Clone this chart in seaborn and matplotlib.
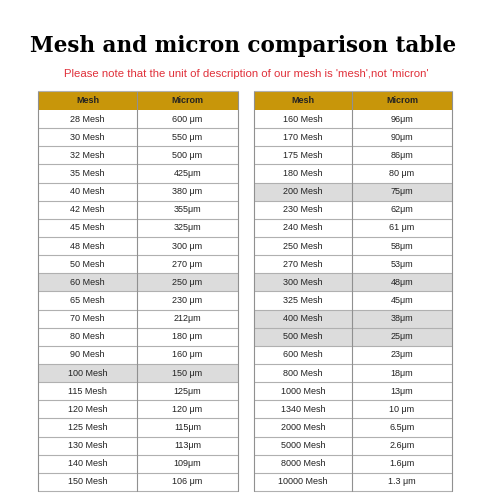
import matplotlib
matplotlib.use("Agg")
import matplotlib.pyplot as plt
import seaborn as sns
from matplotlib.patches import Rectangle

sns.set_theme(style="white")
plt.rcParams['font.family'] = ['Liberation Sans', 'DejaVu Sans']

left_mesh = ["28 Mesh","30 Mesh","32 Mesh","35 Mesh","40 Mesh","42 Mesh","45 Mesh","48 Mesh","50 Mesh","60 Mesh","65 Mesh","70 Mesh","80 Mesh","90 Mesh","100 Mesh","115 Mesh","120 Mesh","125 Mesh","130 Mesh","140 Mesh","150 Mesh"]
left_micron = ["600 μm","550 μm","500 μm","425μm","380 μm","355μm","325μm","300 μm","270 μm","250 μm","230 μm","212μm","180 μm","160 μm","150 μm","125μm","120 μm","115μm","113μm","109μm","106 μm"]
right_mesh = ["160 Mesh","170 Mesh","175 Mesh","180 Mesh","200 Mesh","230 Mesh","240 Mesh","250 Mesh","270 Mesh","300 Mesh","325 Mesh","400 Mesh","500 Mesh","600 Mesh","800 Mesh","1000 Mesh","1340 Mesh","2000 Mesh","5000 Mesh","8000 Mesh","10000 Mesh"]
right_micron = ["96μm","90μm","86μm","80 μm","75μm","62μm","61 μm","58μm","53μm","48μm","45μm","38μm","25μm","23μm","18μm","13μm","10 μm","6.5μm","2.6μm","1.6μm","1.3 μm"]
left_hl = ["60 Mesh","100 Mesh"]
right_hl = ["200 Mesh","300 Mesh","400 Mesh","500 Mesh"]
headers = ["Mesh","Microm"]

fig = plt.figure(figsize=(5,5), dpi=100)
ax = fig.add_axes([0,0,1,1])
ax.set_xlim(0,500); ax.set_ylim(500,0); ax.axis("off")

ax.text(243, 46, "Mesh and micron comparison table", ha="center", va="center",
        fontsize=15.5, fontweight="bold", family=["DejaVu Serif"], color="black")
ax.text(246, 74, "Please note that the unit of description of our mesh is 'mesh',not 'micron'",
        ha="center", va="center", fontsize=8.2, color="#e0303a")

top, hh, rh = 91, 19, 18.14
def table(x0, xm, x1, mesh, mic, hl):
    ax.add_patch(Rectangle((x0, top), x1-x0, hh, color="#c8960a", lw=0))
    ax.text((x0+xm)/2, top+hh/2, headers[0], ha="center", va="center", fontsize=6.5, fontweight="bold", color="#222")
    ax.text((xm+x1)/2, top+hh/2, headers[1], ha="center", va="center", fontsize=6.5, fontweight="bold", color="#222")
    for i,(m,u) in enumerate(zip(mesh, mic)):
        y = top+hh+i*rh
        if m in hl:
            ax.add_patch(Rectangle((x0, y), x1-x0, rh, color="#dcdcdc", lw=0))
        ax.text((x0+xm)/2, y+rh/2, m, ha="center", va="center", fontsize=6.5, color="#222")
        ax.text((xm+x1)/2, y+rh/2, u, ha="center", va="center", fontsize=6.5, color="#222")
        ax.plot([x0,x1],[y+rh,y+rh], color="#b0b0b0", lw=0.8)
    bottom = top+hh+len(mesh)*rh
    for x in (x0, xm, x1):
        ax.plot([x,x],[top,bottom], color="#909090", lw=0.8)
    ax.plot([x0,x1],[top,top], color="#b0b0b0", lw=0.8)

table(38, 137, 238, left_mesh, left_micron, left_hl)
table(254, 352, 452, right_mesh, right_micron, right_hl)
fig.savefig("out.png", dpi=100)
